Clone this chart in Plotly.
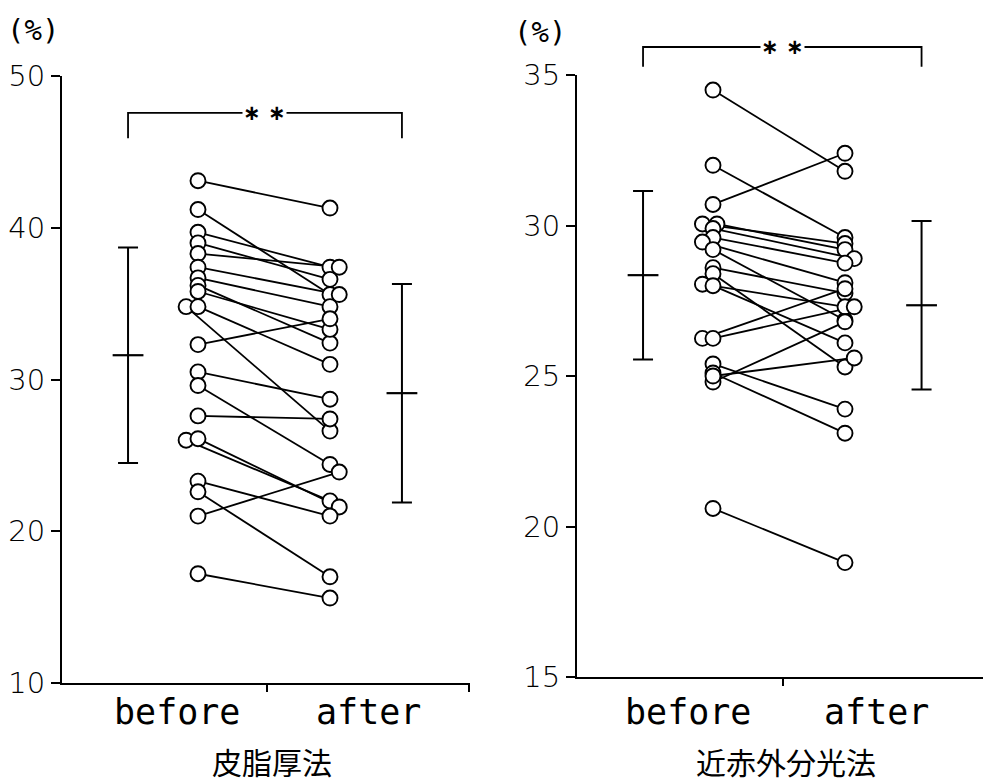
import plotly.graph_objects as go

# ---------------- data ----------------
groups = ["before", "after"]

# skinfold method (皮脂厚法), body fat %
skin_before = [43.1, 41.2, 39.7, 39.0, 38.3, 37.4, 36.7, 36.2, 35.8, 34.8, 34.8,
               32.3, 30.5, 29.6, 27.6, 26.0, 26.1, 23.3, 22.6, 21.0, 17.2]
skin_after = [41.3, 35.6, 37.4, 36.6, 37.4, 35.6, 34.8, 32.4, 33.3, 26.6, 31.0,
              34.0, 28.7, 24.4, 27.4, 22.0, 21.6, 21.0, 17.0, 23.9, 15.6]
skin_mean = [31.6, 29.1]
skin_sd = [7.1, 7.2]

# near-infrared method (近赤外分光法), body fat %
nir_before = [34.5, 32.0, 30.7, 30.05, 30.05, 29.9, 29.6, 29.45, 29.2, 28.6,
              28.4, 28.05, 28.0, 26.25, 26.25, 25.4, 25.1, 24.8, 25.0, 20.6]
nir_after = [31.8, 29.6, 32.4, 29.4, 29.2, 28.9, 28.75, 28.1, 26.85, 27.75,
             25.3, 27.3, 26.1, 27.9, 27.3, 23.9, 23.1, 26.8, 25.6, 18.8]
nir_mean = [28.35, 27.35]
nir_sd = [2.8, 2.8]

left_ticks = [10, 20, 30, 40, 50]
right_ticks = [15, 20, 25, 30, 35]
titles = ["皮脂厚法", "近赤外分光法"]
signif = "∗ ∗"
unit = "(%)"

# small horizontal offsets used in the original to separate overlapping circles
skin_before_shift = [0, 0, 0, 0, 0, 0, 0, 0, 0, -0.09, 0, 0, 0, 0, 0, -0.09, 0, 0, 0, 0, 0]
skin_after_shift = [0, 0, 0, 0, 0.07, 0.07, 0, 0, 0, 0, 0, 0, 0, 0, 0, 0, 0.07, 0, 0, 0.07, 0]
nir_before_shift = [0, 0, 0, -0.08, 0.03, 0, 0, -0.08, 0, 0, 0, -0.08, 0, -0.08, 0, 0, 0, 0, 0, 0]
nir_after_shift = [0, 0, 0, 0, 0, 0.07, 0, 0, 0, 0, 0, 0, 0, 0, 0.07, 0, 0, 0, 0.07, 0]

# ---------------- layout geometry ----------------
W, H = 983, 784
X_BEFORE, X_AFTER = 1.0, 2.0

L_XDOM = [62 / W, 470 / W]
L_YDOM = [(H - 683) / H, (H - 76) / H]
R_XDOM = [577 / W, 1.0]
R_YDOM = [(H - 677) / H, (H - 75) / H]
L_XR = [-0.0303, -0.0303 + 408 / 132]
R_XR = [-0.0303, -0.0303 + 406 / 132]
L_YR = [10, 50]
R_YR = [15, 35]


def to_paper(v, rng, dom):
    return dom[0] + (v - rng[0]) / (rng[1] - rng[0]) * (dom[1] - dom[0])


fig = go.Figure()


def add_panel(xa, ya, before, after, bshift, ashift, mean, sd, bar_x):
    lx, ly = [], []
    for b, a, sb, sa in zip(before, after, bshift, ashift):
        lx += [X_BEFORE + sb, X_AFTER + sa, None]
        ly += [b, a, None]
    fig.add_trace(go.Scatter(x=lx, y=ly, mode="lines", xaxis=xa, yaxis=ya,
                             line=dict(color="black", width=1.8),
                             hoverinfo="skip", showlegend=False))
    mx = [X_BEFORE + s for s in bshift] + [X_AFTER + s for s in ashift]
    my = list(before) + list(after)
    fig.add_trace(go.Scatter(x=mx, y=my, mode="markers", xaxis=xa, yaxis=ya,
                             marker=dict(symbol="circle", size=15, color="white",
                                         line=dict(color="black", width=1.9)),
                             showlegend=False))
    fig.add_trace(go.Scatter(x=bar_x, y=mean, mode="markers", xaxis=xa, yaxis=ya,
                             marker=dict(symbol="line-ew", size=22,
                                         line=dict(color="black", width=2.2)),
                             error_y=dict(type="data", array=sd, visible=True,
                                          color="black", thickness=2, width=10),
                             showlegend=False))


add_panel("x", "y", skin_before, skin_after, skin_before_shift, skin_after_shift,
          skin_mean, skin_sd, [0.47, 2.545])
add_panel("x2", "y2", nir_before, nir_after, nir_before_shift, nir_after_shift,
          nir_mean, nir_sd, [0.47, 2.58])

axis_font = dict(family="DejaVu Sans", size=29, color="black", weight=200)
common_y = dict(showline=True, linecolor="black", linewidth=2, ticks="outside",
                ticklen=9, tickwidth=2, tickcolor="black", showgrid=False,
                zeroline=False, tickfont=axis_font, automargin=False)
common_x = dict(showline=True, linecolor="black", linewidth=2, ticks="outside",
                ticklen=7, tickwidth=2, tickcolor="black", showgrid=False,
                zeroline=False, showticklabels=False, automargin=False)

fig.update_layout(
    template="none",
    width=W, height=H, autosize=False,
    margin=dict(l=0, r=0, t=0, b=0, pad=0, autoexpand=False),
    paper_bgcolor="white", plot_bgcolor="white", showlegend=False,
    xaxis=dict(domain=L_XDOM, range=L_XR, anchor="y",
               tickvals=[1.523, L_XR[1] - 0.004], **common_x),
    yaxis=dict(domain=L_YDOM, range=L_YR, anchor="x", tickvals=left_ticks, **common_y),
    xaxis2=dict(domain=R_XDOM, range=R_XR, anchor="y2",
                tickvals=[1.53], **common_x),
    yaxis2=dict(domain=R_YDOM, range=R_YR, anchor="x2", tickvals=right_ticks, **common_y),
)

mono = dict(family="DejaVu Sans Mono", size=35, color="black")
cjk = dict(family="Noto Sans CJK JP", size=30, color="black")

annotations = []
shapes = []
panels = [
    ("x", L_XR, L_XDOM, L_YR, L_YDOM, [0.84, 2.29], [0.47, 2.545], 47.57, 45.9, 271.5, 33, 30),
    ("x2", R_XR, R_XDOM, R_YR, R_YDOM, [0.81, 2.24], [0.47, 2.58], 35.93, 35.27, 785.5, 540, 32),
]
for i, (xa, xr, xd, yr, yd, lab_x, bar_x, btop, bbot, cap_px, unit_px, unit_py) in enumerate(panels):
    for g, gx in zip(groups, lab_x):
        annotations.append(dict(x=to_paper(gx, xr, xd), y=(H - 712) / H, xref="paper", yref="paper",
                                text=g, showarrow=False, font=mono, xanchor="center", yanchor="middle"))
    annotations.append(dict(x=cap_px / W, y=(H - 761) / H, xref="paper", yref="paper",
                            text=titles[i], showarrow=False, font=cjk,
                            xanchor="center", yanchor="middle"))
    annotations.append(dict(x=unit_px / W, y=(H - unit_py) / H, xref="paper", yref="paper",
                            text=unit, showarrow=False,
                            font=dict(family="DejaVu Sans Mono", size=29, color="black"),
                            xanchor="center", yanchor="middle"))
    # significance bracket
    x0 = to_paper(bar_x[0], xr, xd)
    x1 = to_paper(bar_x[1], xr, xd)
    yt = to_paper(btop, yr, yd)
    yb = to_paper(bbot, yr, yd)
    shapes.append(dict(type="path", xref="paper", yref="paper",
                       path=f"M {x0} {yb} L {x0} {yt} L {x1} {yt} L {x1} {yb}",
                       line=dict(color="black", width=1.8)))
    annotations.append(dict(x=(x0 + x1) / 2, y=yt, xref="paper", yref="paper",
                            text=signif, showarrow=False, bgcolor="white",
                            font=dict(family="DejaVu Sans", size=21, color="black", weight="bold"),
                            xanchor="center", yanchor="middle", borderpad=0))

fig.update_layout(annotations=annotations, shapes=shapes)
fig.write_html("out.html", config={"displayModeBar": False},
               post_script="document.body.style.margin='0';document.body.style.overflow='hidden';")
